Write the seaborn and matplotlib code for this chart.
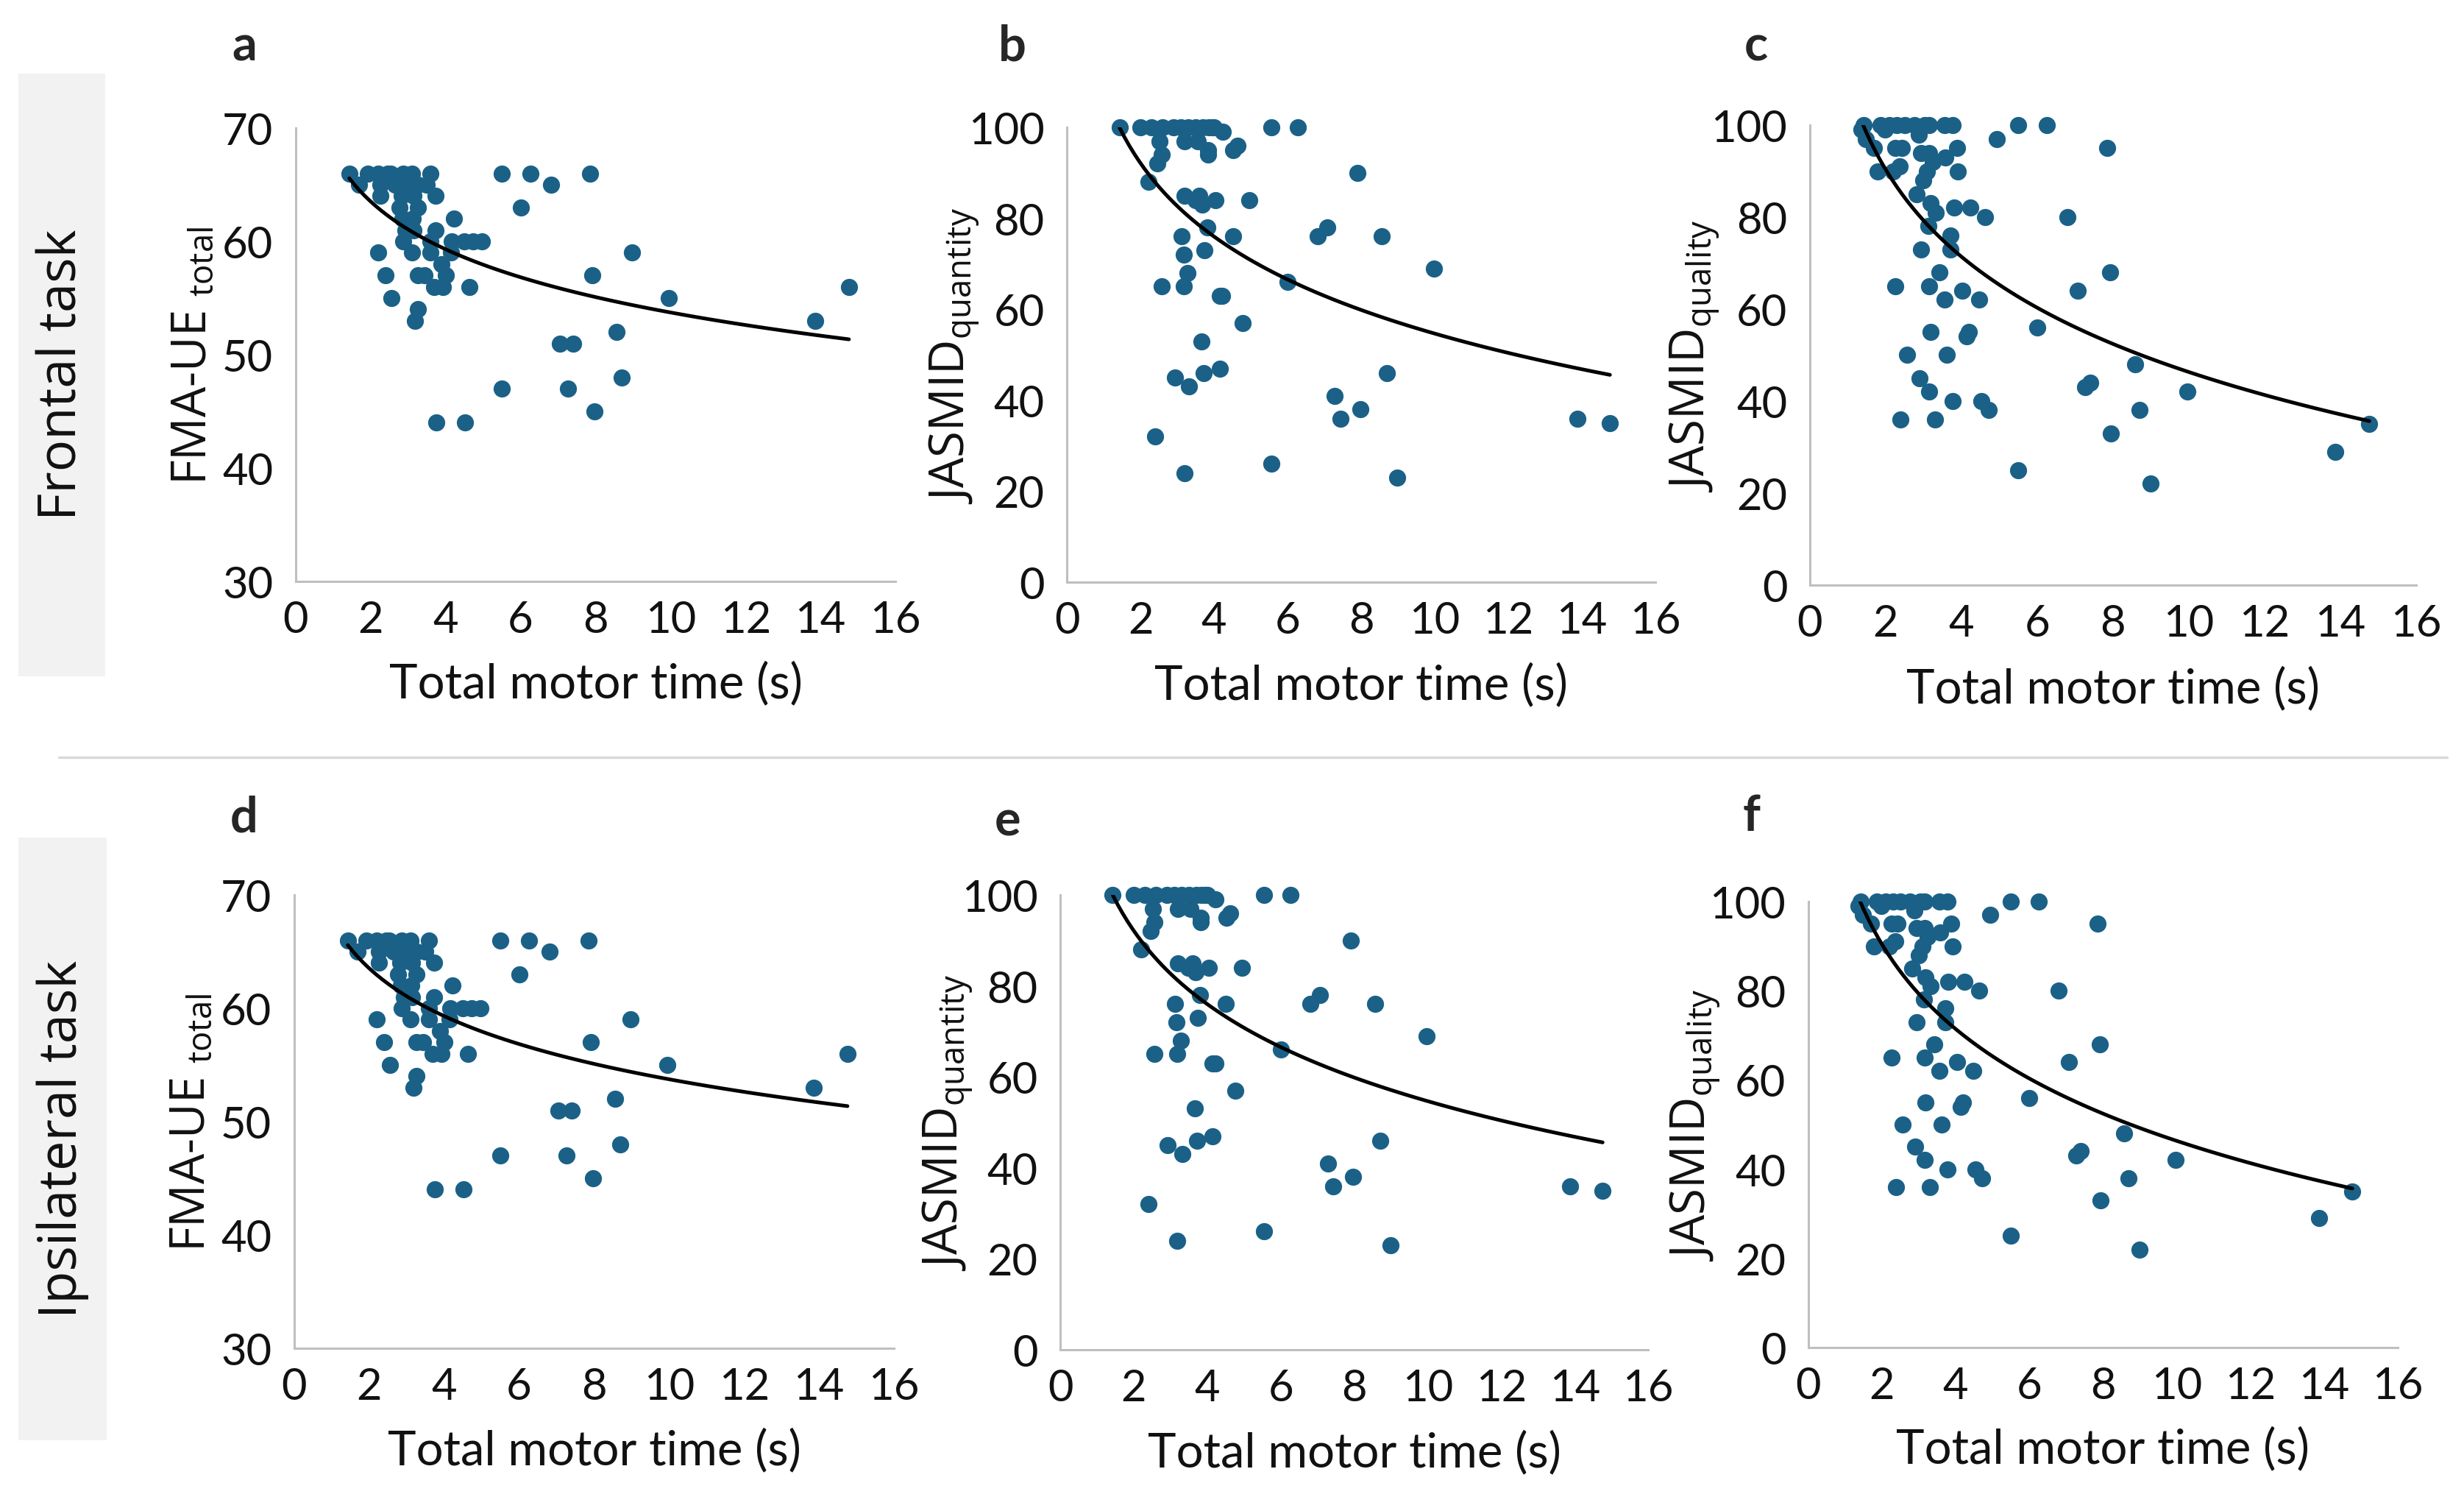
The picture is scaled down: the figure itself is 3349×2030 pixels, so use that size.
import matplotlib
matplotlib.use('Agg')
import matplotlib.pyplot as plt
from matplotlib.patches import Rectangle
from matplotlib.lines import Line2D
import seaborn as sns

# Data (same values in the frontal and ipsilateral rows)
a_time = [1.43, 1.69, 1.92, 2.2, 2.46, 2.54, 2.87, 3.1, 3.6, 5.5, 6.26, 7.86, 6.82,
          2.25, 2.65, 2.93, 3.27, 3.49, 3.74, 2.25, 3.15, 2.82,
          3.27, 6.0, 2.77,
          2.85, 3.13, 4.23,
          2.93, 3.15, 3.74,
          2.87, 3.6, 4.17, 4.5, 4.73, 4.96,
          2.2, 3.1, 3.6, 4.14, 8.98,
          3.89,
          2.39, 3.27, 3.44, 4.0, 7.92,
          2.56, 9.95,
          3.7, 3.92, 4.64, 14.76,
          3.27, 3.19, 13.86, 8.56, 7.04, 7.41, 8.69, 5.5, 7.27, 7.97, 3.76, 4.52]
a_fma = [66, 65, 66, 66, 66, 66, 66, 66, 66, 66, 66, 66, 65,
         65, 65, 65, 65, 65, 64, 64, 64, 64,
         63, 63, 63,
         62, 62, 62,
         61, 61, 61,
         60, 60, 60, 60, 60, 60,
         59, 59, 59, 59, 59,
         58,
         57, 57, 57, 57, 57,
         55, 55,
         56, 56, 56, 56,
         54, 53, 53, 52, 51, 51, 48, 47, 47, 45, 44, 44]

b_time = [1.43, 2.0, 2.3, 2.6, 2.9, 3.1, 3.3, 3.5, 3.7, 3.85, 3.95, 4.0, 5.55, 6.27,
          4.23, 3.2, 3.55, 3.83, 3.83, 2.52, 4.63, 4.52, 2.57, 2.46, 2.21, 7.9,
          3.2, 3.6, 3.49, 3.68, 4.04, 4.95, 3.81, 7.07, 6.81, 8.56, 3.12, 4.51,
          3.17, 3.74, 3.28, 2.57, 3.18, 4.15, 4.22, 6.0, 9.98, 4.77, 3.66,
          2.93, 3.72, 4.15, 3.32, 8.7, 7.28, 7.97, 7.43, 13.87, 14.76,
          2.4, 5.55, 3.19, 8.98]
b_quantity = [100, 100, 100, 100, 100, 100, 100, 100, 100, 100, 100, 100, 100, 100,
              99, 97, 97, 95, 94, 97, 96, 95, 94, 92, 88, 90,
              85, 85, 84, 83, 84, 84, 78, 78, 76, 76, 76, 76,
              72, 73, 68, 65, 65, 63, 63, 66, 69, 57, 53,
              45, 46, 47, 43, 46, 41, 38, 36, 36, 35,
              32, 26, 24, 23]

c_time = [1.42, 1.87, 2.1, 2.3, 2.5, 2.76, 3.04, 3.15, 3.55, 3.77, 5.5, 6.26,
          1.36, 1.48, 1.7, 1.98, 2.26, 2.43, 2.87, 2.93, 3.15, 3.24, 3.58, 3.88, 4.94, 7.85,
          1.79, 2.2, 2.37, 3.91, 3.1, 2.99, 2.82, 3.18, 3.32, 3.8, 4.24, 4.63, 6.8,
          3.13, 3.71, 3.71, 2.93, 3.42, 7.92, 2.26, 3.15, 4.03, 3.55, 4.47, 7.07,
          6.0, 3.18, 4.14, 4.19, 2.56, 3.62, 8.58, 2.89, 3.15, 3.77, 4.53, 4.72,
          7.27, 7.4, 9.96, 8.7, 2.39, 3.3, 7.94, 14.77, 13.87, 5.5, 8.99]
c_quality = [100, 100, 100, 100, 100, 100, 100, 100, 100, 100, 100, 100,
             99, 97, 95, 99, 95, 95, 98, 94, 94, 92, 93, 95, 97, 95,
             90, 90, 91, 90, 90, 88, 85, 83, 81, 82, 82, 80, 80,
             78, 76, 73, 73, 68, 68, 65, 65, 64, 62, 62, 64,
             56, 55, 54, 55, 50, 50, 48, 45, 42, 40, 40, 38,
             43, 44, 42, 38, 36, 36, 33, 35, 29, 25, 22]

panel_letters = ['a', 'b', 'c', 'd', 'e', 'f']
row_titles = ['Frontal task', 'Ipsilateral task']
x_label = 'Total motor time (s)'

dot_color = '#1b6187'
axis_grey = '#bfbfbf'

sns.set_style('white')
plt.rcParams['font.family'] = ['Lato', 'DejaVu Sans']
plt.rcParams['mathtext.fontset'] = 'custom'
plt.rcParams['mathtext.rm'] = 'Open Sans'
plt.rcParams['mathtext.it'] = 'Open Sans'

fig = plt.figure(figsize=(16.745, 10.155), dpi=200)

rects = [
    [0.1200, 0.6105, 0.2434, 0.3033],
    [0.4330, 0.6100, 0.2389, 0.3043],
    [0.7345, 0.6081, 0.2460, 0.3077],
    [0.1194, 0.0975, 0.2434, 0.3033],
    [0.4303, 0.0965, 0.2386, 0.3043],
    [0.7339, 0.0980, 0.2392, 0.2984],
]
panels = [
    (a_time, a_fma, r'FMA-UE $_{\mathrm{total}}$', (30, 70), 10, -0.131),
    (b_time, b_quantity, r'JASMID$_{\mathrm{quantity}}$', (0, 100), 20, -0.145),
    (c_time, c_quality, r'JASMID$_{\mathrm{quality}}$', (0, 100), 20, -0.146),
]
letter_pos = [(0.0991, 0.9685), (0.4109, 0.9685), (0.7128, 0.9685),
              (0.0991, 0.4525), (0.4088, 0.4505), (0.7107, 0.4535)]

for i, rect in enumerate(rects):
    x, y, ylab, ylim, ystep, labx = panels[i % 3]
    ax = fig.add_axes(rect)
    sns.regplot(x=x, y=y, ax=ax, logx=True, ci=None,
                scatter_kws=dict(s=70, color=dot_color, linewidths=0, alpha=1,
                                 clip_on=False),
                line_kws=dict(color='black', lw=1.8))
    ax.set_xlim(0, 16)
    ax.set_ylim(*ylim)
    ax.set_xticks(range(0, 17, 2))
    ax.set_yticks(range(ylim[0], ylim[1] + 1, ystep))
    for side in ['top', 'right']:
        ax.spines[side].set_visible(False)
    for side in ['left', 'bottom']:
        ax.spines[side].set_color(axis_grey)
        ax.spines[side].set_linewidth(1.1)
    ax.tick_params(axis='both', which='major', direction='out', length=3, width=1.1,
                   color=axis_grey, labelsize=21.5, labelcolor='#111111')
    ax.tick_params(axis='x', pad=6)
    ax.tick_params(axis='y', pad=8)
    ax.set_xlabel(x_label, fontsize=23.5, color='#111111')
    ax.xaxis.set_label_coords(0.5, -0.175)
    ax.set_ylabel(ylab, fontsize=23.5, fontfamily='Open Sans', color='#111111')
    ax.yaxis.set_label_coords(labx, 0.5)
    fig.text(letter_pos[i][0], letter_pos[i][1], panel_letters[i], fontsize=24,
             fontweight='bold', ha='center', va='center')

# row headers on grey bands
fig.add_artist(Rectangle((0.0075, 0.547), 0.0352, 0.4032, transform=fig.transFigure,
                         facecolor='#f2f2f2', edgecolor='none', zorder=0))
fig.add_artist(Rectangle((0.0075, 0.0359), 0.0358, 0.4032, transform=fig.transFigure,
                         facecolor='#f2f2f2', edgecolor='none', zorder=0))
fig.text(0.0254, 0.7494, row_titles[0], rotation=90, ha='center', va='center',
         fontsize=26, fontfamily='Open Sans', color='#111111')
fig.text(0.0254, 0.2378, row_titles[1], rotation=90, ha='center', va='center',
         fontsize=26, fontfamily='Open Sans', color='#111111')

# separator between the rows
fig.add_artist(Line2D([0.0239, 0.9931], [0.4929, 0.4929], transform=fig.transFigure,
                      color='#d9d9d9', lw=1.2))

fig.savefig('out.png', dpi=200)
